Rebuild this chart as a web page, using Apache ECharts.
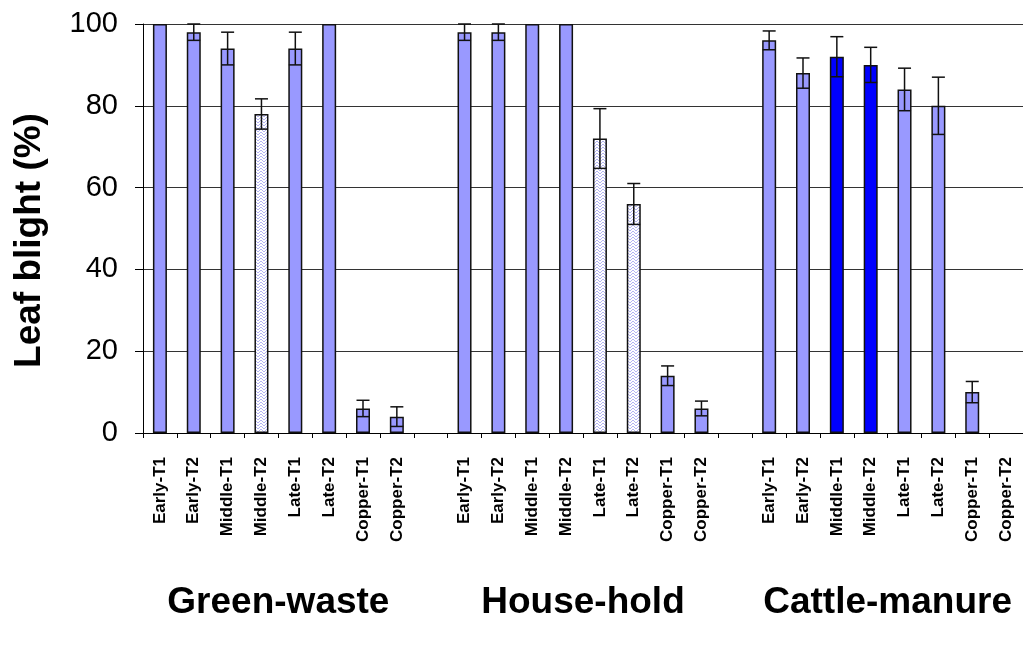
<!DOCTYPE html>
<html>
<head>
<meta charset="utf-8">
<script src="https://cdn.jsdelivr.net/npm/echarts@6/dist/echarts.min.js"></script>
<style>
  html, body { margin: 0; padding: 0; background: #fff; }
  #chart { width: 1023px; height: 648px; }
</style>
</head>
<body>
<div id="chart"></div>
<script>
// Treatments within each compost type
const treatments = ['Early-T1', 'Early-T2', 'Middle-T1', 'Middle-T2', 'Late-T1', 'Late-T2', 'Copper-T1', 'Copper-T2'];
const composts = ['Green-waste', 'House-hold', 'Cattle-manure'];

// Leaf blight (%) means and error values per compost type
const greenWaste = [100, 98, 94, 78, 94, 100, 6, 4];
const greenWasteErr = [0, 2, 4, 3.7, 4, 0, 2, 2.4];
const houseHold = [98, 98, 100, 100, 72, 56, 14, 6];
const houseHoldErr = [2, 2, 0, 0, 7.3, 5, 2.4, 1.8];
const cattleManure = [96, 88, 92, 90, 84, 80, 10, 0];
const cattleManureErr = [2.3, 3.7, 4.9, 4.3, 5.2, 7, 2.6, 0];

const yTicks = [0, 20, 40, 60, 80, 100];

// Bars drawn with a hatched fill, and bars drawn in strong blue
const hatched = { 'Green-waste': ['Middle-T2'], 'House-hold': ['Late-T1', 'Late-T2'], 'Cattle-manure': [] };
const strong = { 'Green-waste': [], 'House-hold': [], 'Cattle-manure': ['Middle-T1', 'Middle-T2'] };

const FONT = "'Liberation Sans', Arial, sans-serif";
const LIGHT = '#9999ff';
const DARK = '#0000ff';

// Hatch pattern tile: white ground with pale lavender zigzag strokes
function makeHatch() {
  const c = document.createElement('canvas');
  c.width = 6; c.height = 6;
  const g = c.getContext('2d');
  g.fillStyle = '#ffffff';
  g.fillRect(0, 0, 6, 6);
  g.strokeStyle = '#b4b4f2';
  g.lineWidth = 1;
  g.beginPath();
  g.moveTo(0, 6); g.lineTo(3, 3); g.lineTo(6, 6);
  g.moveTo(0, 3); g.lineTo(3, 0); g.lineTo(6, 3);
  g.stroke();
  return c;
}
const hatchFill = { image: makeHatch(), repeat: 'repeat' };

// Flatten the three compost groups into one category axis with a blank slot between groups
const groupValues = [greenWaste, houseHold, cattleManure];
const groupErrors = [greenWasteErr, houseHoldErr, cattleManureErr];
const xCategories = [];
const barData = [];
const errData = [];
const groupSpans = [];
composts.forEach((name, gi) => {
  if (gi > 0) { xCategories.push(''); barData.push('-'); }
  const start = xCategories.length;
  treatments.forEach((t, ti) => {
    const idx = xCategories.length;
    const v = groupValues[gi][ti];
    xCategories.push(t);
    let fill = LIGHT;
    if (hatched[name].includes(t)) fill = hatchFill;
    if (strong[name].includes(t)) fill = DARK;
    // a zero mean leaves no visible bar
    barData.push({ value: v, itemStyle: v > 0 ? { color: fill } : { color: 'transparent', borderWidth: 0 } });
    if (groupErrors[gi][ti] > 0) errData.push([idx, v, groupErrors[gi][ti]]);
  });
  groupSpans.push([start, xCategories.length - 1]);
});

const chart = echarts.init(document.getElementById('chart'), null, { renderer: 'canvas' });

chart.setOption({
  animation: false,
  backgroundColor: '#ffffff',
  grid: { left: 143, right: -4, top: 24, bottom: 215, containLabel: false },
  xAxis: {
    type: 'category',
    data: xCategories,
    axisLine: { lineStyle: { color: '#000', width: 1 } },
    axisTick: { show: true, length: 5, lineStyle: { color: '#000' } },
    axisLabel: {
      interval: 0, rotate: 90, margin: 24,
      fontFamily: FONT, fontSize: 17, fontWeight: 'bold', color: '#000'
    }
  },
  yAxis: {
    type: 'value',
    min: yTicks[0], max: yTicks[yTicks.length - 1], interval: 20,
    axisLine: { show: true, lineStyle: { color: '#000', width: 1 } },
    axisTick: { show: true, length: 8, lineStyle: { color: '#000' } },
    axisLabel: { margin: 25, fontFamily: FONT, fontSize: 29, color: '#000' },
    splitLine: { show: true, lineStyle: { color: '#333', width: 1 } }
  },
  series: [
    {
      type: 'bar',
      data: barData,
      barWidth: 14,
      itemStyle: { borderColor: '#111', borderWidth: 1.5 },
      z: 2
    },
    {
      type: 'custom',
      data: errData,
      z: 3,
      renderItem(params, api) {
        const x = api.value(0), v = api.value(1), e = api.value(2);
        const top = api.coord([x, v + e]);
        const bot = api.coord([x, v - e]);
        const half = 6.5;
        const style = { stroke: '#111', lineWidth: 1.5 };
        return {
          type: 'group',
          children: [
            { type: 'line', shape: { x1: top[0], y1: top[1], x2: bot[0], y2: bot[1] }, style },
            { type: 'line', shape: { x1: top[0] - half, y1: top[1], x2: top[0] + half, y2: top[1] }, style },
            { type: 'line', shape: { x1: bot[0] - half, y1: bot[1], x2: bot[0] + half, y2: bot[1] }, style }
          ]
        };
      }
    }
  ]
});

// Axis title and compost group names placed from the axis scale
const textStyle = (text, size) => ({ text, fontFamily: FONT, fontSize: size, fontWeight: 'bold', fill: '#000', align: 'center', verticalAlign: 'middle' });
const groupLabels = groupSpans.map((span, i) => {
  const a = chart.convertToPixel({ xAxisIndex: 0 }, span[0]);
  const b = chart.convertToPixel({ xAxisIndex: 0 }, span[1]);
  return { type: 'text', x: (a + b) / 2, y: 603, style: textStyle(composts[i], 37) };
});
const midY = (chart.convertToPixel({ yAxisIndex: 0 }, 0) + chart.convertToPixel({ yAxisIndex: 0 }, 100)) / 2;
chart.setOption({
  graphic: [
    { type: 'text', x: 30, y: midY + 12, rotation: Math.PI / 2, style: textStyle('Leaf blight (%)', 37) },
    ...groupLabels
  ]
});
</script>
</body>
</html>
